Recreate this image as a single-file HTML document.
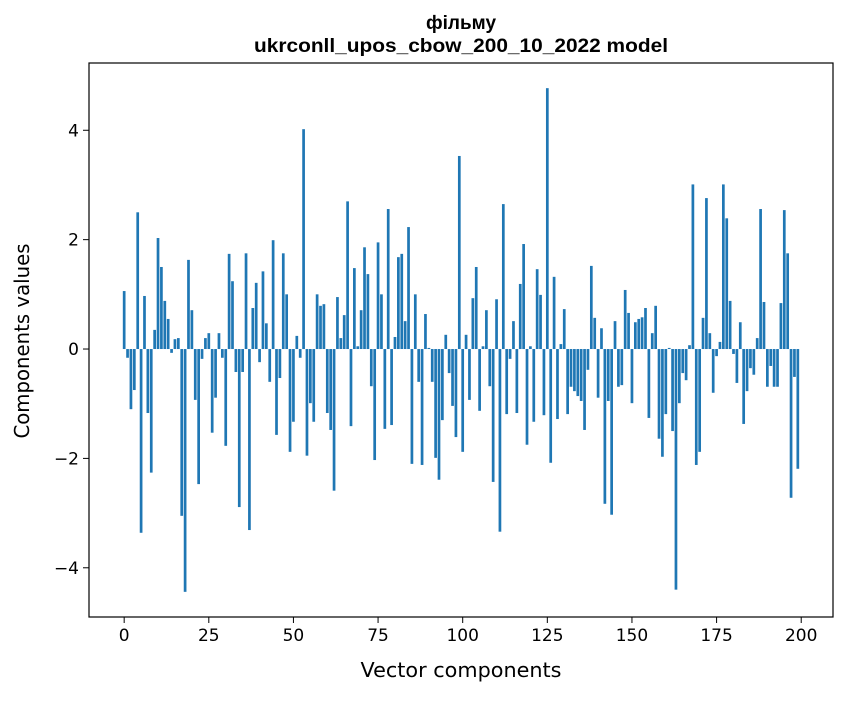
<!DOCTYPE html>
<html><head><meta charset="utf-8"><style>
body{margin:0;background:#fff;}
svg text{font-family:"DejaVu Sans","Liberation Sans",sans-serif;fill:#000;}
</style></head><body>
<svg id="chart" width="847" height="696" xmlns="http://www.w3.org/2000/svg">
<rect x="0" y="0" width="847" height="696" fill="#fff"/>
<text x="461" y="29" text-anchor="middle" font-size="19" font-weight="bold" style="font-family:'Liberation Sans',sans-serif">фільму</text>
<text x="461" y="52" text-anchor="middle" font-size="19" font-weight="bold" textLength="414" lengthAdjust="spacingAndGlyphs" style="font-family:'Liberation Sans',sans-serif">ukrconll_upos_cbow_200_10_2022 model</text>
<g id="bars"></g>
<g id="axes"></g>
<text x="461" y="677" text-anchor="middle" font-size="20" textLength="201" lengthAdjust="spacingAndGlyphs">Vector components</text>
<text transform="translate(29,341) rotate(-90)" text-anchor="middle" font-size="20" textLength="195" lengthAdjust="spacingAndGlyphs">Components values</text>
</svg>
<script>
const values = [1.06,-0.16,-1.10,-0.75,2.50,-3.36,0.97,-1.17,-2.26,0.35,
2.03,1.50,0.88,0.55,-0.07,0.18,0.20,-3.05,-4.44,1.63,
0.71,-0.93,-2.47,-0.18,0.20,0.29,-1.53,-0.89,0.29,-0.16,
-1.77,1.74,1.24,-0.42,-2.89,-0.42,1.75,-3.31,0.75,1.21,
-0.24,1.42,0.47,-0.60,1.99,-1.57,-0.53,1.75,1.00,-1.88,
-1.33,0.24,-0.16,4.02,-1.95,-0.99,-1.33,1.00,0.79,0.82,
-1.17,-1.48,-2.59,0.95,0.20,0.62,2.70,-1.41,1.48,0.05,
0.71,1.86,1.37,-0.68,-2.03,1.95,1.00,-1.46,2.56,-1.39,
0.22,1.68,1.74,0.51,2.23,-2.10,1.00,-0.60,-2.12,0.64,
0.02,-0.60,-1.99,-2.39,-1.30,0.26,-0.44,-1.04,-1.61,3.53,
-1.88,0.26,-0.93,0.93,1.50,-1.13,0.05,0.71,-0.68,-2.43,
0.91,-3.34,2.65,-1.19,-0.18,0.51,-1.17,1.19,1.92,-1.75,
0.05,-1.33,1.46,0.99,-1.21,4.77,-2.08,1.32,-1.28,0.09,
0.73,-1.19,-0.69,-0.77,-0.86,-0.95,-1.48,-0.38,1.52,0.57,
-0.89,0.38,-2.83,-0.95,-3.03,0.51,-0.69,-0.66,1.08,0.66,
-0.99,0.49,0.55,0.58,0.75,-1.26,0.29,0.79,-1.64,-1.97,
-1.19,0.02,-1.50,-4.40,-0.99,-0.44,-0.57,0.07,3.01,-2.12,
-1.88,0.57,2.76,0.29,-0.80,-0.13,0.13,3.01,2.39,0.88,
-0.09,-0.62,0.49,-1.37,-0.77,-0.35,-0.47,0.20,2.56,0.86,
-0.69,-0.31,-0.69,-0.69,0.84,2.54,1.75,-2.72,-0.51,-2.19];
const xTicks = [0,25,50,75,100,125,150,175,200];
const yTicks = [-4,-2,0,2,4];

const L=89,R=833,T=63,B=617;
const xMin=-10.39,xMax=209.39,yMin=-4.90,yMax=5.23;
const xs=v=>L+(v-xMin)/(xMax-xMin)*(R-L);
const ys=v=>B-(v-yMin)/(yMax-yMin)*(B-T);
const NS="http://www.w3.org/2000/svg";
const bars=document.getElementById('bars');
const bw=xs(0.8)-xs(0);
values.forEach((v,i)=>{
  const r=document.createElementNS(NS,'rect');
  
  
  const y0=ys(0),y1=ys(v);
  r.setAttribute('x',xs(i)-bw/2);
  r.setAttribute('y',Math.min(y0,y1));
  r.setAttribute('width',bw);
  r.setAttribute('height',Math.max(Math.abs(y1-y0),0.5));
  r.setAttribute('fill','#1f77b4');
  bars.appendChild(r);
});
const axes=document.getElementById('axes');
const frame=document.createElementNS(NS,'rect');


frame.setAttribute('x',L);frame.setAttribute('y',T);
frame.setAttribute('width',R-L);frame.setAttribute('height',B-T);
frame.setAttribute('fill','none');frame.setAttribute('stroke','#000');frame.setAttribute('stroke-width','1.2');
axes.appendChild(frame);
xTicks.forEach(t=>{
  const x=xs(t);
  const l=document.createElementNS(NS,'line');
  
  
  l.setAttribute('x1',x);l.setAttribute('x2',x);l.setAttribute('y1',B);l.setAttribute('y2',B+6);
  l.setAttribute('stroke','#000');
  axes.appendChild(l);
  const tx=document.createElementNS(NS,'text');
  
  
  tx.setAttribute('x',x);tx.setAttribute('y',B+24);
  tx.setAttribute('text-anchor','middle');tx.setAttribute('font-size','17');
  tx.textContent=t;
  axes.appendChild(tx);
});
yTicks.forEach(t=>{
  const y=ys(t);
  const l=document.createElementNS(NS,'line');
  
  
  l.setAttribute('x1',L-6);l.setAttribute('x2',L);l.setAttribute('y1',y);l.setAttribute('y2',y);
  l.setAttribute('stroke','#000');
  axes.appendChild(l);
  const tx=document.createElementNS(NS,'text');
  
  
  tx.setAttribute('x',L-10);tx.setAttribute('y',y+6);
  tx.setAttribute('text-anchor','end');tx.setAttribute('font-size','17');
  tx.textContent=t<0?'\u2212'+Math.abs(t):String(t);
  axes.appendChild(tx);
});
</script>
</body></html>
